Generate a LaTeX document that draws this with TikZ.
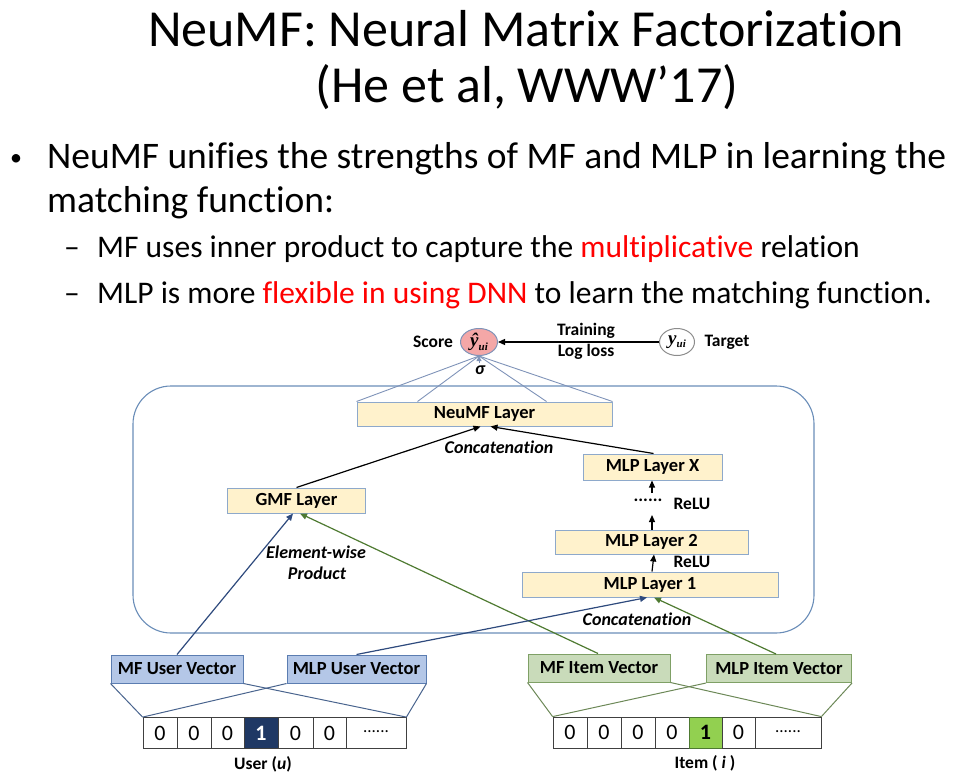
\documentclass[tikz,border=0pt]{standalone}
\usepackage{fontspec}
\setmainfont{Carlito}[Ligatures=NoCommon]
\newfontfamily\symserif{Liberation Serif}
\usetikzlibrary{arrows.meta,calc,shapes.geometric}

\definecolor{layerfill}{HTML}{FFF2CC}
\definecolor{layerline}{HTML}{8EA9CB}
\definecolor{frameline}{HTML}{6A8DB8}
\definecolor{userfill}{HTML}{B4C7E7}
\definecolor{userline}{HTML}{5B7DB1}
\definecolor{itemfill}{HTML}{C9DBBA}
\definecolor{itemline}{HTML}{7FA066}
\definecolor{navy}{HTML}{2E4A7D}
\definecolor{leaf}{HTML}{4E7A31}
\definecolor{hotuser}{HTML}{1F3864}
\definecolor{hotitem}{HTML}{92D050}
\definecolor{scorefill}{HTML}{F4A7A7}
\definecolor{scoreline}{HTML}{7F93B8}
\definecolor{hotred}{HTML}{FF0000}

% y with subscript ui, set in a bold italic serif
\newcommand{\yvar}[1]{{\symserif\bfseries\itshape #1\raisebox{-3.5pt}{\fontsize{11}{12}\selectfont ui}}}

\begin{document}
\begin{tikzpicture}[x=1pt,y=-1pt,
  tip/.style={-{Triangle[length=7pt,width=6pt]}},
  lbl/.style={inner sep=0pt, font=\fontsize{17.5}{20}\selectfont\bfseries},
  ital/.style={inner sep=0pt, font=\fontsize{18}{21}\selectfont\bfseries\itshape},
  layer/.style={draw=layerline, fill=layerfill, line width=1pt, inner sep=0pt,
    font=\fontsize{18.5}{21}\selectfont\bfseries},
  uservec/.style={draw=userline, fill=userfill, line width=1pt, inner sep=0pt,
    minimum height=28, font=\fontsize{18.5}{21}\selectfont\bfseries},
  itemvec/.style={draw=itemline, fill=itemfill, line width=1pt, inner sep=0pt,
    minimum height=28, font=\fontsize{18.5}{21}\selectfont\bfseries},
  cell/.style={draw=black!75, fill=white, line width=0.8pt, inner sep=0pt,
    minimum height=31, font=\fontsize{22}{24}\selectfont},
  fan/.style={draw=scoreline, line width=0.9pt},
  ttl/.style={inner sep=0pt, anchor=base, font=\fontsize{52}{60}\selectfont},
  body/.style={inner sep=0pt, anchor=base west, font=\fontsize{37.5}{42}\selectfont},
  sub/.style={inner sep=0pt, anchor=base west, font=\fontsize{31.5}{36}\selectfont}]
\useasboundingbox (0,0) rectangle (973,778);

% ---------- title and bullets ----------
\node[ttl] (title1) at (526,47) {NeuMF: Neural Matrix Factorization};
\node[ttl] (title2) at (527,103) {(He et al, WWW’17)};
\node[inner sep=0pt, anchor=base west, font=\fontsize{24}{26}\selectfont] (dot1) at (10,165) {•};
\node[body] (b1) at (47,168) {NeuMF unifies the strengths of MF and MLP in learning the};
\node[body] (b1b) at (47,212) {matching function:};
\node[sub] (dash1) at (64,257) {–};
\node[sub] (s1) at (97,257) {MF uses inner product to capture the \textcolor{hotred}{multiplicative} relation};
\node[sub] (dash2) at (64,303) {–};
\node[sub] (s2) at (97,303) {MLP is more \textcolor{hotred}{flexible in using DNN} to learn the matching function.};

% ---------- frame around the NeuMF layers ----------
\draw[frameline, line width=1.1pt, rounded corners=38pt] (133,386) rectangle (814,633);

% ---------- output and target ----------
\node[ellipse, draw=scoreline, fill=scorefill, line width=1pt, minimum width=37, minimum height=27, inner sep=0pt,
  font=\fontsize{19}{21}\selectfont] (score) at (479,342) {\yvar{ŷ}};
\node[ellipse, draw=black!45, fill=white, line width=1pt, minimum width=35, minimum height=27, inner sep=0pt,
  font=\fontsize{19}{21}\selectfont] (target) at (677,342) {\yvar{y}};
\node[lbl] (scorelbl) at (433,342) {Score};
\node[lbl] (targetlbl) at (727,342) {Target};
\node[lbl] (train) at (586,331) {Training};
\node[lbl] (logloss) at (586,352) {Log loss};
\draw[tip, line width=1.2pt] (target.west) -- (score.east);
\node[ital] (sigma) at (480,370) {σ};

% ---------- layers ----------
\node[layer, minimum width=255, minimum height=24] (neumf) at (484.5,414) {NeuMF Layer};
\node[layer, minimum width=138, minimum height=25] (gmf) at (296.5,500.5) {GMF Layer};
\node[layer, minimum width=139, minimum height=26] (mlpx) at (652.5,467) {MLP Layer X};
\node[layer, minimum width=193, minimum height=24] (mlp2) at (651.5,542) {MLP Layer 2};
\node[layer, minimum width=256, minimum height=25] (mlp1) at (650,584.5) {MLP Layer 1};

\node[ital] (concat1) at (499,447) {Concatenation};
\node[ital] (concat2) at (637,619) {Concatenation};
\node[ital] (ew1) at (316,552) {Element-wise};
\node[ital] (ew2) at (317,573) {Product};
\node[lbl] (relu1) at (692,504) {ReLU};
\node[lbl] (relu2) at (692,562) {ReLU};
\node[inner sep=0pt, font=\fontsize{18}{20}\selectfont\bfseries] (dots) at (648,500) {......};
\coordinate (dotsbot) at (652,515);
\coordinate (dotstop) at (652,493);

% fan from NeuMF layer into the prediction
\draw[fan] (neumf.north west) -- (score.south);
\draw[fan] ($(neumf.north west)+(61,0)$) -- (score.south);
\draw[fan] ($(neumf.north west)+(190,0)$) -- (score.south);
\draw[fan] (neumf.north east) -- (score.south);
\draw[fan, -{Triangle[length=5pt,width=5pt]}] ($(score.south)+(0,7)$) -- (score.south);

% arrows inside the model
\draw[tip, line width=1.2pt] (gmf.north) -- ($(neumf.south)+(-4,0)$);
\draw[tip, line width=1.2pt] ($(mlpx.north)+(1,0)$) -- ($(neumf.south)+(6,0)$);
\draw[tip, line width=1.2pt] ($(mlp1.north)+(2,0)$) -- ($(mlp2.south)+(2.5,0)$);
\draw[tip, line width=1.2pt] ($(mlp2.north)+(0.5,0)$) -- (dotsbot);
\draw[tip, line width=1.2pt] (dotstop) -- ($(mlpx.south)+(-0.5,0)$);

% ---------- embedding vectors ----------
\node[uservec, minimum width=132] (mfu) at (177,669) {MF User Vector};
\node[uservec, minimum width=139] (mlpu) at (356.5,669) {MLP User Vector};
\node[itemvec, minimum width=142] (mfi) at (599,668) {MF Item Vector};
\node[itemvec, minimum width=145] (mlpi) at (779,668.5) {MLP Item Vector};

\draw[tip, navy, line width=1.2pt] (mfu.north) -- ($(gmf.south)+(-3.5,0)$);
\draw[tip, leaf, line width=1.2pt] ($(mfi.north)+(-1,0)$) -- ($(gmf.south)+(3.5,0)$);
\draw[tip, navy, line width=1.2pt] (mlpu.north) -- ($(mlp1.south)+(-3,0)$);
\draw[tip, leaf, line width=1.2pt] ($(mlpi.north)+(-3,0)$) -- ($(mlp1.south)+(4,0)$);

% ---------- one-hot user input ----------
\node[cell, minimum width=34] (u1) at (160,733) {0};
\node[cell, minimum width=34] (u2) at (194,733) {0};
\node[cell, minimum width=33] (u3) at (227.5,733) {0};
\node[cell, minimum width=34, fill=hotuser, text=white, font=\fontsize{22}{24}\selectfont\bfseries] (u4) at (261,733) {1};
\node[cell, minimum width=35] (u5) at (295.5,733) {0};
\node[cell, minimum width=33] (u6) at (329.5,733) {0};
\node[cell, minimum width=60] (u7) at (376,733) {\fontsize{17}{19}\selectfont\raisebox{2pt}{......}};
\node[inner sep=0pt, font=\fontsize{17.5}{20}\selectfont\bfseries] (ulbl) at (263,764) {User (\textit{u})};

\draw[userline!80!black, line width=1pt] (mfu.south west) -- (u1.north west);
\draw[userline!80!black, line width=1pt] (mfu.south east) -- (u7.north east);
\draw[userline!80!black, line width=1pt] (mlpu.south west) -- (u1.north west);
\draw[userline!80!black, line width=1pt] (mlpu.south east) -- (u7.north east);

% ---------- one-hot item input ----------
\node[cell, minimum width=34] (i1) at (570,732.5) {0};
\node[cell, minimum width=34] (i2) at (604,732.5) {0};
\node[cell, minimum width=34] (i3) at (638,732.5) {0};
\node[cell, minimum width=34] (i4) at (672,732.5) {0};
\node[cell, minimum width=33, fill=hotitem, draw=leaf, font=\fontsize{22}{24}\selectfont\bfseries] (i5) at (705.5,732.5) {1};
\node[cell, minimum width=33] (i6) at (738.5,732.5) {0};
\node[cell, minimum width=66] (i7) at (788,732.5) {\fontsize{17}{19}\selectfont\raisebox{2pt}{......}};
\node[inner sep=0pt, font=\fontsize{17.5}{20}\selectfont\bfseries] (ilbl) at (705,763) {Item ( \textit{i} )};

\draw[itemline!85!black, line width=1pt] (mfi.south west) -- (i1.north west);
\draw[itemline!85!black, line width=1pt] (mfi.south east) -- (i7.north east);
\draw[itemline!85!black, line width=1pt] (mlpi.south west) -- (i1.north west);
\draw[itemline!85!black, line width=1pt] (mlpi.south east) -- (i7.north east);
\end{tikzpicture}
\end{document}
